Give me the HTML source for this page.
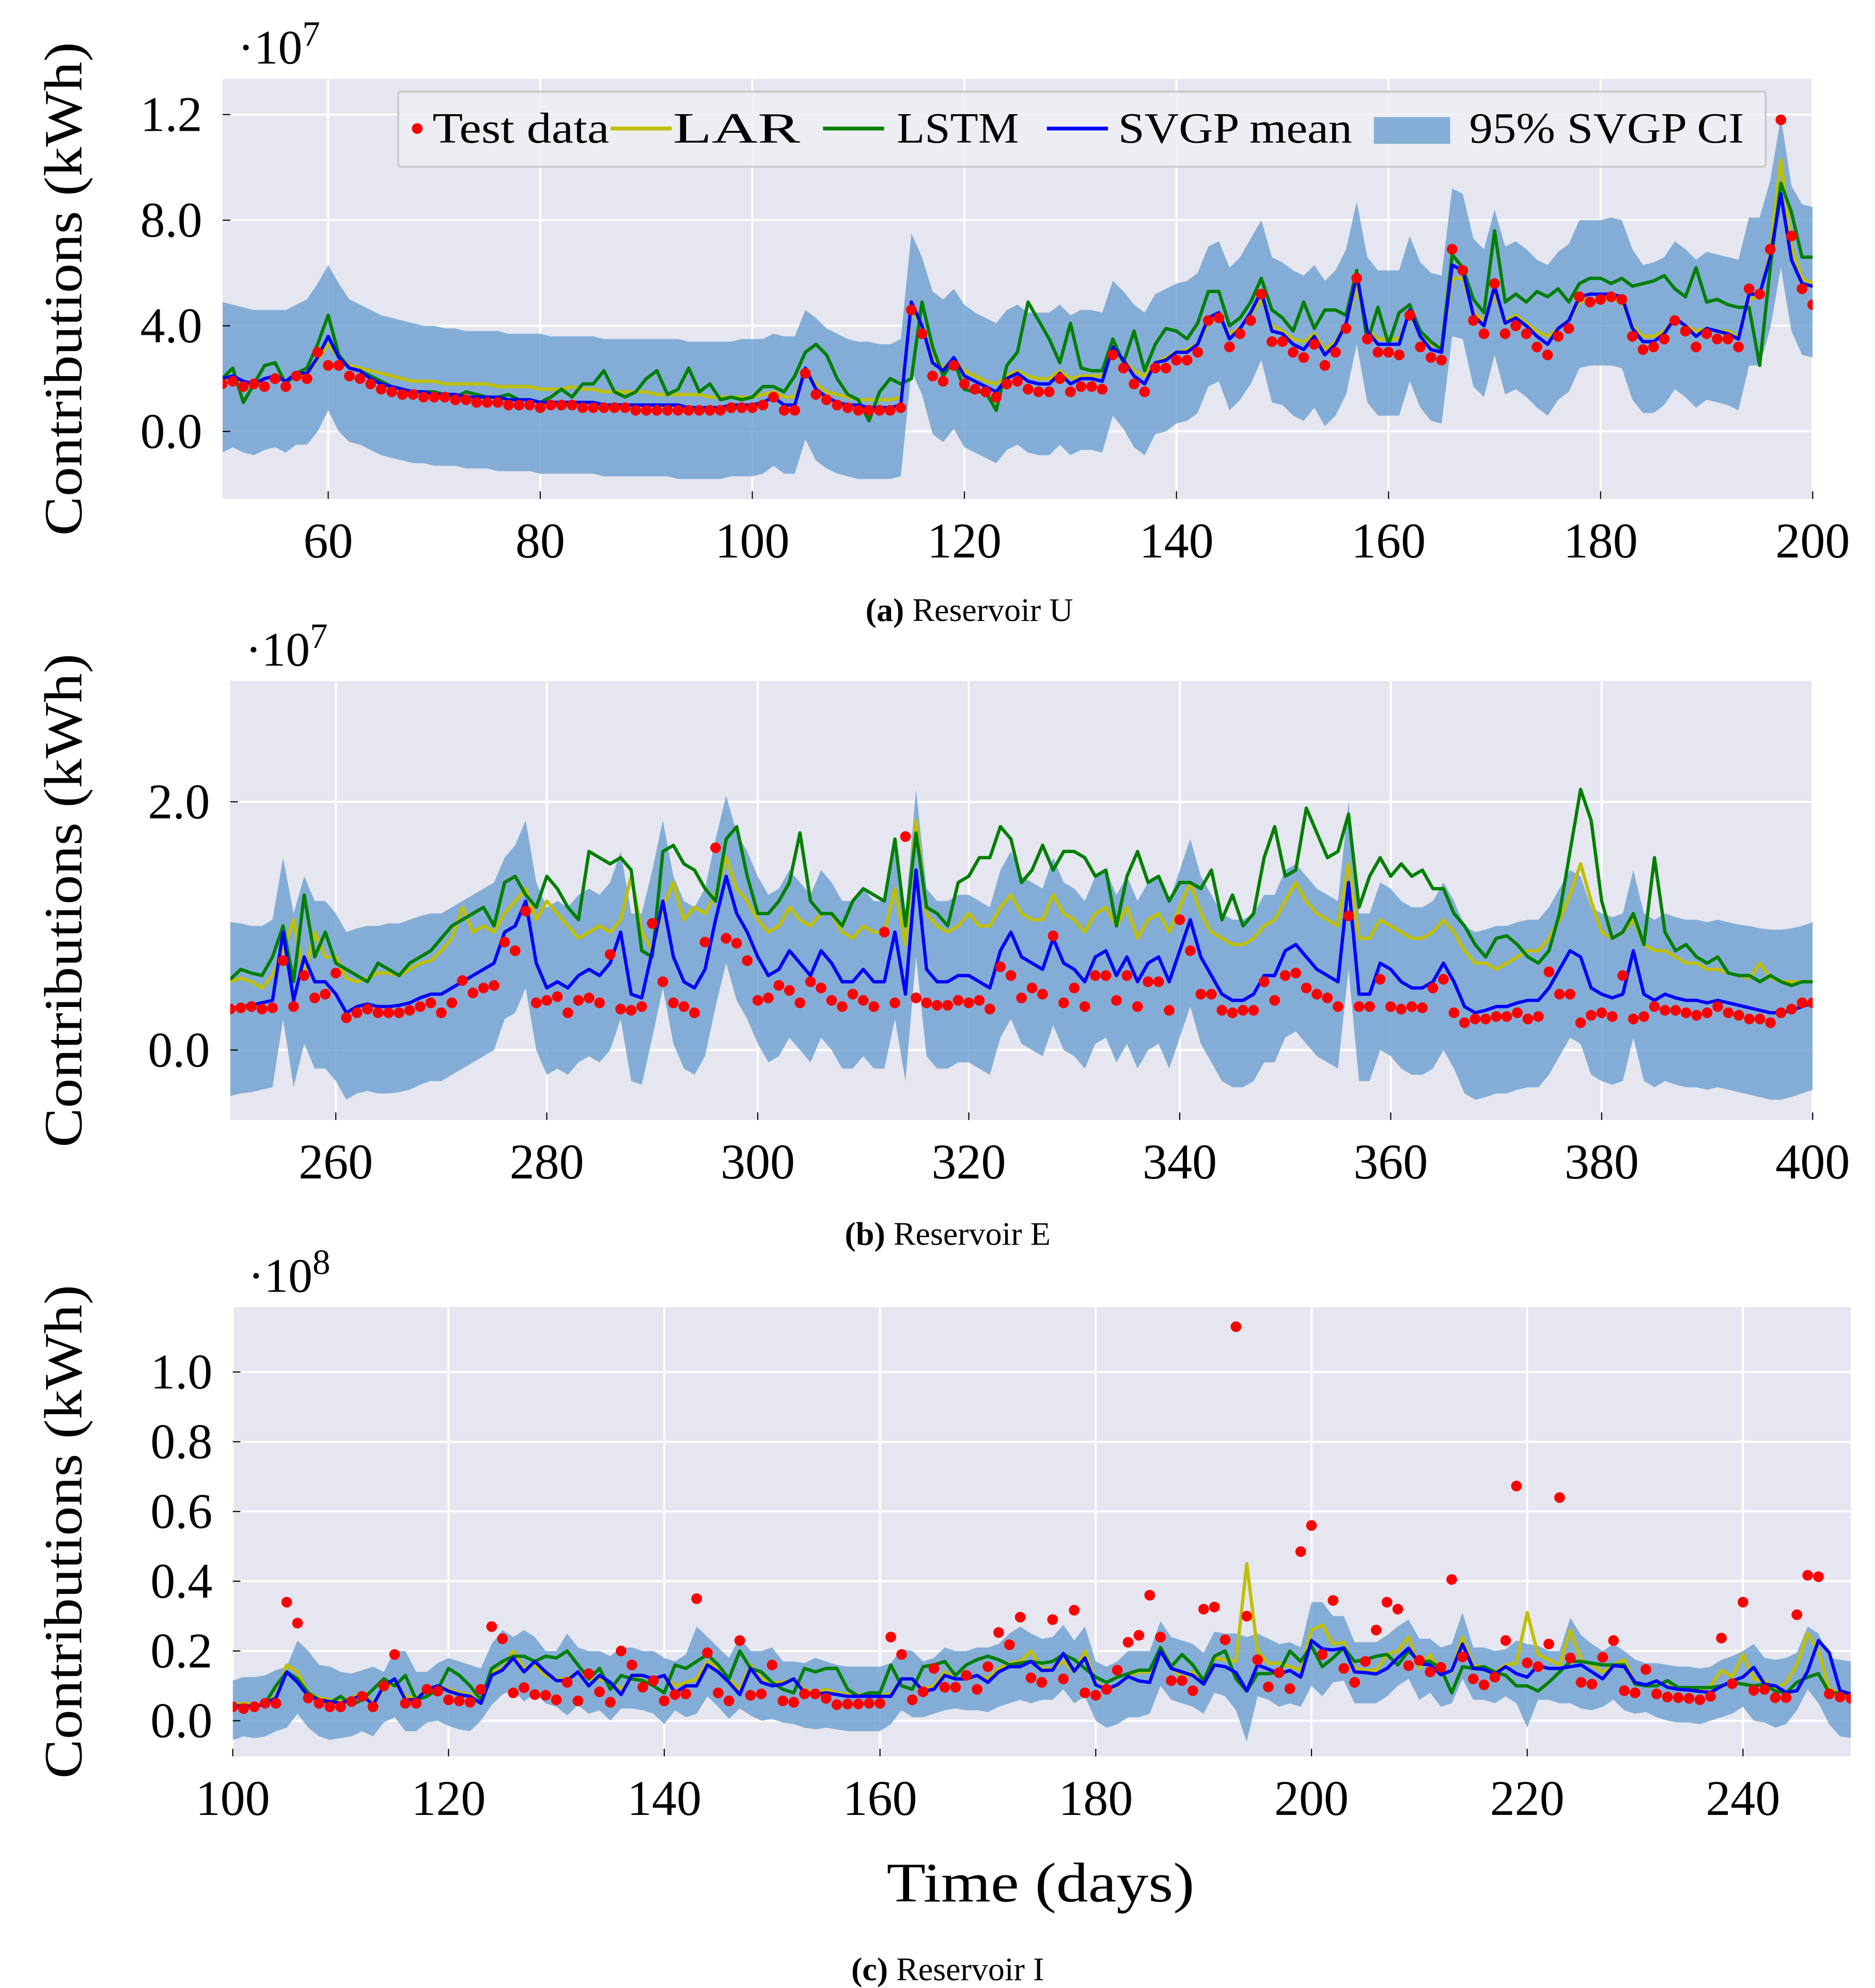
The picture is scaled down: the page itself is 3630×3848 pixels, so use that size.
<!DOCTYPE html>
<html><head><meta charset="utf-8"><style>
html,body{margin:0;padding:0;background:#fff}
svg{display:block}
text{font-family:"Liberation Serif","DejaVu Serif",serif;fill:#000}
</style></head><body>
<svg id="fig" width="3630" height="3848" viewBox="0 0 1474 1562" preserveAspectRatio="none" xmlns="http://www.w3.org/2000/svg">
<rect x="0" y="0" width="1474" height="1562" fill="#fff"/>
</svg>
<script>
// ---------------- Panel A data (Reservoir U, units 1e6 kWh), days 50..200
const startA = 50;
const testA=[1.8,1.9,1.7,1.8,1.7,2.0,1.7,2.1,2.0,3.0, 2.5,2.5,2.1,2.0,1.8,1.6,1.5,1.4,1.4,1.3, 1.3,1.3,1.2,1.2,1.1,1.1,1.1,1.0,1.0,1.0, 0.9,1.0,1.0,1.0,0.9,0.9,0.9,0.9,0.9,0.8, 0.8,0.8,0.8,0.8,0.8,0.8,0.8,0.8,0.9,0.9, 0.9,1.0,1.3,0.8,0.8,2.2,1.4,1.2,1.0,0.9, 0.8,0.8,0.8,0.8,0.9,4.6,3.7,2.1,1.9,2.5, 1.8,1.6,1.5,1.3,1.8,1.9,1.6,1.5,1.5,2.0, 1.5,1.7,1.7,1.6,2.9,2.4,1.8,1.5,2.4,2.4, 2.7,2.7,3.0,4.2,4.3,3.2,3.7,4.2,5.2,3.4, 3.4,3.0,2.8,3.3,2.5,3.0,3.9,5.8,3.5,3.0, 3.0,2.9,4.4,3.2,2.8,2.7,6.9,6.1,4.2,3.7, 5.6,3.7,4.0,3.7,3.2,2.9,3.6,3.9,5.1,4.9, 5.0,5.1,5.0,3.6,3.1,3.2,3.5,4.2,3.8,3.2, 3.7,3.5,3.5,3.2,5.4,5.2,6.9,11.8,7.4,5.4, 4.8];
const meanA=[2.0,2.1,1.9,1.8,2.0,2.1,1.9,2.2,2.2,2.8, 3.6,2.8,2.4,2.3,2.0,1.8,1.7,1.6,1.5,1.5, 1.4,1.4,1.4,1.3,1.3,1.3,1.3,1.2,1.2,1.2, 1.1,1.1,1.1,1.1,1.1,1.1,1.0,1.0,1.0,1.0, 1.0,1.0,1.0,1.0,0.9,0.9,0.9,0.9,1.0,1.0, 1.0,1.1,1.3,1.0,1.0,2.4,1.6,1.3,1.1,1.0, 1.0,0.9,0.9,0.9,1.0,4.9,4.0,2.6,2.3,2.8, 2.1,1.9,1.7,1.5,2.0,2.2,1.9,1.8,1.8,2.2, 1.8,2.0,2.0,1.9,3.2,2.7,2.1,1.8,2.6,2.7, 3.0,3.0,3.3,4.3,4.5,3.5,3.9,4.5,5.3,3.8, 3.7,3.3,3.1,3.6,2.9,3.3,4.1,5.9,3.8,3.3, 3.3,3.3,4.6,3.6,3.1,3.0,6.3,6.1,4.4,4.0, 5.5,4.1,4.3,4.0,3.6,3.3,3.9,4.2,5.1,5.2, 5.2,5.2,5.1,3.9,3.4,3.4,3.7,4.3,4.0,3.6, 3.9,3.8,3.7,3.5,5.2,5.2,6.6,9.0,6.5,5.6, 5.5];
const larA=[2.0,2.0,1.9,1.8,2.0,2.1,1.9,2.1,2.2,2.7, 3.3,2.8,2.5,2.4,2.3,2.2,2.1,2.0,1.9,1.9, 1.9,1.8,1.8,1.8,1.8,1.8,1.7,1.7,1.7,1.7, 1.6,1.6,1.6,1.7,1.6,1.6,1.5,1.5,1.5,1.5, 1.5,1.4,1.4,1.4,1.4,1.4,1.3,1.3,1.3,1.3, 1.3,1.4,1.5,1.3,1.3,2.3,1.8,1.5,1.4,1.3, 1.2,1.2,1.2,1.2,1.3,4.6,4.0,2.8,2.4,2.7, 2.3,2.1,1.9,1.8,2.1,2.3,2.1,2.0,2.0,2.3, 2.0,2.1,2.1,2.1,3.0,2.7,2.3,2.1,2.6,2.8, 3.0,3.1,3.3,4.1,4.3,3.7,3.9,4.4,5.0,4.0, 3.8,3.5,3.4,3.7,3.1,3.4,4.1,5.5,3.9,3.5, 3.5,3.5,4.4,3.7,3.3,3.2,5.8,5.8,4.5,4.2, 5.2,4.2,4.4,4.1,3.8,3.6,3.9,4.2,4.9,5.0, 5.0,5.0,4.9,4.0,3.6,3.6,3.8,4.3,4.0,3.8, 3.9,3.8,3.8,3.6,5.0,5.1,6.8,10.3,7.0,5.8, 5.6];
const lstmA=[2.0,2.4,1.1,1.8,2.5,2.6,1.8,2.2,2.4,3.3, 4.4,2.9,2.4,2.3,2.1,1.9,1.7,1.6,1.5,1.5, 1.5,1.4,1.3,1.5,1.4,1.3,1.3,1.4,1.2,1.2, 1.1,1.3,1.6,1.3,1.8,1.8,2.3,1.5,1.3,1.5, 2.0,2.3,1.4,1.6,2.4,1.5,1.8,1.2,1.3,1.2, 1.3,1.7,1.7,1.5,2.1,3.0,3.3,2.9,2.0,1.4, 1.2,0.4,1.5,2.0,1.8,2.0,4.9,3.2,2.1,2.7, 1.6,1.5,1.5,0.8,2.5,3.0,4.9,4.2,3.5,2.6, 4.1,2.4,2.3,2.3,3.5,2.6,3.8,2.3,3.3,3.9, 3.8,3.5,4.1,5.3,5.3,4.0,4.3,4.9,5.8,4.6, 4.3,3.8,4.9,3.9,4.6,4.6,4.4,6.1,3.4,4.7, 3.3,4.5,4.8,3.8,3.4,3.1,6.7,6.2,5.0,4.5, 7.6,4.9,5.2,4.9,5.3,5.1,5.4,4.9,5.6,5.8, 5.8,5.6,5.8,5.5,5.6,5.7,5.9,5.4,5.1,6.2, 4.9,5.0,4.8,4.7,4.7,2.5,6.2,9.4,8.3,6.6, 6.6];
const ciUA=[4.9,4.8,4.7,4.6,4.6,4.6,4.6,4.8,5.0,5.6, 6.3,5.6,5.0,4.8,4.6,4.4,4.3,4.2,4.1,4.0, 4.0,3.9,3.9,3.8,3.8,3.8,3.8,3.7,3.7,3.7, 3.7,3.6,3.6,3.6,3.6,3.6,3.5,3.5,3.5,3.5, 3.5,3.5,3.5,3.5,3.4,3.4,3.4,3.4,3.4,3.5, 3.5,3.5,3.7,3.6,3.6,4.6,4.3,3.9,3.7,3.5, 3.4,3.4,3.3,3.3,3.5,7.5,6.6,5.3,5.0,5.4, 4.8,4.5,4.3,4.1,4.6,4.8,4.5,4.5,4.5,4.8, 4.4,4.6,4.6,4.5,5.7,5.3,4.8,4.5,5.2,5.4, 5.6,5.7,6.0,7.0,7.2,6.2,6.6,7.3,8.0,6.6, 6.4,6.1,5.9,6.3,5.7,6.1,6.9,8.7,6.6,6.1, 6.1,6.1,7.4,6.4,6.0,5.9,9.2,9.0,7.3,6.9, 8.4,7.0,7.2,6.9,6.5,6.3,6.8,7.1,8.0,8.0, 8.0,8.1,8.0,6.9,6.3,6.4,6.6,7.2,6.9,6.5, 6.8,6.7,6.6,6.5,8.1,8.1,9.5,11.9,9.3,8.6, 8.5];
const ciLA=[-0.8,-0.6,-0.8,-0.9,-0.7,-0.6,-0.8,-0.5,-0.5,0.0, 0.8,0.0,-0.4,-0.5,-0.7,-0.9,-1.0,-1.1,-1.2,-1.2, -1.3,-1.3,-1.3,-1.4,-1.4,-1.4,-1.5,-1.5,-1.5,-1.5, -1.6,-1.6,-1.6,-1.6,-1.6,-1.6,-1.7,-1.7,-1.7,-1.7, -1.7,-1.7,-1.7,-1.8,-1.8,-1.8,-1.8,-1.8,-1.7,-1.7, -1.7,-1.6,-1.3,-1.6,-1.6,-0.3,-1.1,-1.4,-1.6,-1.7, -1.8,-1.8,-1.8,-1.8,-1.7,2.3,1.4,-0.1,-0.4,0.1, -0.6,-0.8,-1.0,-1.2,-0.7,-0.5,-0.8,-0.9,-0.9,-0.5, -0.9,-0.7,-0.7,-0.8,0.6,0.1,-0.6,-0.9,-0.1,0.0, 0.3,0.4,0.7,1.7,1.9,0.8,1.2,1.8,2.7,1.1, 1.0,0.6,0.4,0.9,0.2,0.6,1.4,3.3,1.1,0.6, 0.6,0.6,1.9,0.9,0.4,0.3,3.6,3.5,1.7,1.3, 2.9,1.4,1.6,1.3,0.9,0.6,1.2,1.5,2.4,2.5, 2.5,2.5,2.4,1.2,0.7,0.7,1.0,1.6,1.3,0.9, 1.2,1.1,1.0,0.8,2.5,2.5,3.9,6.2,3.8,2.9, 2.8];
const xTicksA=[60,80,100,120,140,160,180,200];
const yTicksA=[0,4,8,12];
const yTickLabelsA=["0.0","4.0","8.0","1.2"];

// ---------------- Panel B data (Reservoir E, units 1e7 kWh), days 250..400
const startB = 250;
const testB=[0.33,0.34,0.35,0.33,0.34,0.72,0.35,0.60,0.42,0.45, 0.62,0.26,0.30,0.33,0.30,0.30,0.30,0.32,0.35,0.38, 0.30,0.38,0.56,0.46,0.50,0.52,0.87,0.80,1.12,0.38, 0.40,0.43,0.30,0.40,0.42,0.38,0.77,0.33,0.32,0.35, 1.02,0.55,0.38,0.35,0.30,0.87,1.63,0.90,0.86,0.72, 0.40,0.42,0.52,0.48,0.38,0.55,0.50,0.40,0.35,0.45, 0.40,0.35,0.95,0.38,1.72,0.42,0.38,0.36,0.36,0.40, 0.38,0.40,0.33,0.67,0.60,0.42,0.50,0.45,0.92,0.38, 0.50,0.35,0.60,0.60,0.40,0.60,0.35,0.55,0.55,0.32, 1.05,0.80,0.45,0.45,0.32,0.30,0.32,0.32,0.55,0.40, 0.60,0.62,0.50,0.45,0.42,0.35,1.08,0.35,0.35,0.57, 0.35,0.33,0.35,0.34,0.50,0.57,0.30,0.22,0.25,0.25, 0.27,0.27,0.30,0.25,0.27,0.63,0.45,0.45,0.22,0.28, 0.30,0.27,0.60,0.25,0.27,0.35,0.32,0.32,0.30,0.28, 0.30,0.35,0.30,0.28,0.25,0.25,0.22,0.30,0.33,0.38, 0.38];
const meanB=[0.33,0.35,0.36,0.38,0.40,0.95,0.40,0.75,0.55,0.55, 0.45,0.30,0.35,0.37,0.35,0.35,0.36,0.38,0.42,0.45, 0.45,0.50,0.55,0.60,0.65,0.70,0.95,1.00,1.20,0.70, 0.50,0.55,0.50,0.60,0.65,0.60,0.70,0.95,0.45,0.42, 0.80,1.20,0.75,0.55,0.50,0.65,1.05,1.40,1.10,0.95, 0.75,0.60,0.65,0.80,0.70,0.60,0.80,0.70,0.55,0.55, 0.65,0.55,0.55,0.95,0.45,1.45,0.65,0.55,0.55,0.60, 0.60,0.55,0.50,0.80,0.95,0.75,0.70,0.65,0.90,0.70, 0.65,0.55,0.75,0.80,0.60,0.75,0.55,0.70,0.75,0.55, 0.80,1.05,0.75,0.60,0.45,0.40,0.40,0.45,0.60,0.60, 0.80,0.85,0.75,0.65,0.60,0.55,1.35,0.45,0.45,0.70, 0.65,0.55,0.50,0.50,0.55,0.70,0.55,0.35,0.30,0.32, 0.35,0.35,0.38,0.40,0.40,0.50,0.65,0.80,0.75,0.50, 0.45,0.42,0.45,0.80,0.45,0.40,0.45,0.42,0.40,0.40, 0.38,0.40,0.38,0.36,0.34,0.32,0.30,0.30,0.32,0.35, 0.38];
const larB=[0.55,0.58,0.55,0.50,0.60,0.80,1.05,0.60,0.95,0.75, 0.75,0.58,0.55,0.58,0.62,0.62,0.60,0.65,0.70,0.72, 0.80,0.90,1.15,0.95,1.00,0.95,1.10,1.20,1.30,1.05, 1.20,1.10,1.00,0.90,0.95,1.00,0.95,1.05,1.40,0.95, 0.80,1.15,1.35,1.05,1.15,1.10,1.25,1.55,1.30,1.20, 1.05,0.95,1.00,1.15,1.05,1.00,1.10,1.10,0.95,0.90, 1.00,0.95,0.95,1.30,0.85,1.85,1.10,1.00,0.95,1.00, 1.10,1.00,1.00,1.15,1.25,1.10,1.05,1.05,1.25,1.10, 1.05,0.95,1.10,1.15,1.00,1.15,0.90,1.05,1.10,0.95, 1.15,1.35,1.10,0.95,0.90,0.85,0.85,0.90,1.00,1.05, 1.20,1.35,1.20,1.10,1.05,1.00,1.50,0.90,0.90,1.05, 1.00,0.95,0.90,0.90,0.95,1.05,0.95,0.80,0.70,0.70, 0.65,0.70,0.75,0.80,0.80,0.90,1.05,1.25,1.50,1.20, 0.95,0.90,0.95,1.05,0.85,0.80,0.80,0.75,0.70,0.70, 0.65,0.65,0.62,0.60,0.58,0.70,0.58,0.55,0.55,0.55, 0.55];
const lstmB=[0.57,0.65,0.62,0.60,0.75,1.00,0.55,1.25,0.75,0.95, 0.70,0.65,0.60,0.55,0.70,0.65,0.60,0.70,0.75,0.80, 0.90,1.00,1.05,1.10,1.15,1.00,1.35,1.40,1.25,1.15, 1.40,1.30,1.15,1.05,1.60,1.55,1.50,1.55,1.45,0.80, 0.75,1.60,1.65,1.50,1.45,1.30,1.20,1.70,1.80,1.40, 1.10,1.10,1.20,1.35,1.75,1.20,1.10,1.10,1.00,1.20, 1.30,1.25,1.20,1.70,1.00,1.75,1.15,1.10,1.00,1.35, 1.40,1.55,1.55,1.80,1.70,1.35,1.45,1.65,1.45,1.60, 1.60,1.55,1.40,1.45,1.00,1.40,1.60,1.35,1.40,1.20, 1.35,1.35,1.30,1.45,1.05,1.25,1.00,1.10,1.55,1.80, 1.40,1.45,1.95,1.75,1.55,1.60,1.90,1.15,1.40,1.55, 1.40,1.50,1.40,1.45,1.30,1.30,1.10,1.00,0.85,0.75, 0.90,0.92,0.85,0.75,0.70,0.80,1.10,1.60,2.10,1.85, 1.20,0.90,0.95,1.10,0.85,1.55,0.95,0.80,0.85,0.75, 0.70,0.75,0.62,0.60,0.60,0.55,0.60,0.55,0.52,0.55, 0.55];
const ciUB=[1.03,1.02,1.00,1.00,1.05,1.55,1.10,1.40,1.20,1.20, 1.10,0.95,0.98,1.00,1.00,1.02,1.02,1.05,1.08,1.10, 1.10,1.15,1.20,1.25,1.30,1.35,1.55,1.65,1.85,1.35, 1.15,1.20,1.15,1.25,1.30,1.25,1.35,1.60,1.10,1.10, 1.45,1.85,1.40,1.20,1.15,1.30,1.70,2.05,1.75,1.60, 1.40,1.25,1.30,1.45,1.35,1.25,1.45,1.35,1.20,1.20, 1.30,1.20,1.20,1.60,1.10,2.10,1.30,1.20,1.20,1.25, 1.25,1.20,1.15,1.45,1.60,1.40,1.35,1.30,1.55,1.35, 1.30,1.20,1.40,1.45,1.25,1.40,1.20,1.35,1.40,1.20, 1.45,1.70,1.40,1.25,1.10,1.05,1.05,1.10,1.25,1.25, 1.45,1.50,1.40,1.30,1.25,1.20,2.00,1.10,1.10,1.35, 1.30,1.20,1.15,1.15,1.20,1.35,1.20,1.00,0.95,0.97, 1.00,1.00,1.03,1.05,1.05,1.15,1.30,1.45,1.40,1.15, 1.10,1.07,1.10,1.45,1.10,1.05,1.10,1.07,1.05,1.05, 1.03,1.05,1.03,1.01,1.00,0.98,0.97,0.97,0.98,1.00, 1.03];
const ciLB=[-0.37,-0.35,-0.34,-0.32,-0.30,0.25,-0.30,0.05,-0.15,-0.15, -0.25,-0.40,-0.35,-0.33,-0.35,-0.35,-0.34,-0.32,-0.28,-0.25, -0.25,-0.20,-0.15,-0.10,-0.05,0.00,0.25,0.30,0.50,0.00, -0.20,-0.15,-0.20,-0.10,-0.05,-0.10,0.00,0.25,-0.25,-0.28, 0.10,0.50,0.05,-0.15,-0.20,-0.05,0.35,0.70,0.40,0.25, 0.05,-0.10,-0.05,0.10,0.00,-0.10,0.10,0.00,-0.15,-0.15, -0.05,-0.15,-0.15,0.25,-0.25,0.75,-0.05,-0.15,-0.15,-0.10, -0.10,-0.15,-0.20,0.10,0.25,0.05,0.00,-0.05,0.20,0.00, -0.05,-0.15,0.05,0.10,-0.10,0.05,-0.15,0.00,0.05,-0.15, 0.10,0.35,0.05,-0.10,-0.25,-0.30,-0.30,-0.25,-0.10,-0.10, 0.10,0.15,0.05,-0.05,-0.10,-0.15,0.65,-0.25,-0.25,0.00, -0.05,-0.15,-0.20,-0.20,-0.15,0.00,-0.15,-0.35,-0.40,-0.38, -0.35,-0.35,-0.32,-0.30,-0.30,-0.20,-0.05,0.10,0.05,-0.20, -0.25,-0.28,-0.25,0.10,-0.25,-0.30,-0.25,-0.28,-0.30,-0.30, -0.32,-0.30,-0.32,-0.34,-0.36,-0.38,-0.40,-0.40,-0.38,-0.35, -0.32];
const xTicksB=[260,280,300,320,340,360,380,400];
const yTicksB=[0,2];
const yTickLabelsB=["0.0","2.0"];

// ---------------- Panel C data (Reservoir I, units 1e8 kWh), days 100..250
const startC = 100;
const testC=[.04,.035,.04,.05,.05,.34,.28,.065,.05,.04, .04,.055,.07,.04,.10,.19,.05,.05,.09,.085, .06,.057,.053,.09,.27,.235,.08,.095,.075,.073, .06,.11,.057,.135,.083,.053,.20,.16,.096,.115, .057,.075,.077,.35,.195,.08,.057,.23,.073,.077, .16,.057,.053,.077,.077,.064,.046,.048,.048,.05, .05,.24,.19,.06,.083,.15,.096,.096,.13,.09, .155,.253,.218,.297,.123,.11,.29,.12,.317,.08, .073,.09,.145,.225,.245,.36,.24,.115,.115,.086, .32,.326,.232,1.13,.30,.175,.097,.138,.092,.485, .56,.19,.345,.15,.11,.17,.26,.34,.32,.158, .173,.14,.153,.405,.183,.12,.103,.125,.23,.673, .166,.155,.22,.64,.18,.11,.105,.182,.23,.086, .08,.147,.077,.068,.066,.064,.06,.07,.237,.106, .34,.087,.09,.066,.066,.304,.417,.413,.077,.068, .064];
const meanC=[.042,.04,.04,.05,.065,.14,.11,.07,.06,.055, .05,.06,.075,.045,.10,.12,.06,.06,.09,.10, .085,.075,.07,.05,.13,.145,.18,.14,.17,.14, .115,.115,.14,.10,.13,.11,.075,.13,.13,.12, .13,.08,.10,.10,.16,.14,.11,.075,.15,.11, .10,.105,.12,.08,.075,.08,.075,.07,.07,.07, .07,.07,.12,.12,.085,.09,.13,.12,.12,.13, .11,.14,.155,.155,.17,.144,.145,.193,.142,.18, .103,.09,.103,.127,.114,.11,.20,.15,.14,.13, .105,.16,.155,.138,.086,.16,.148,.135,.144,.125, .23,.206,.203,.208,.14,.138,.134,.15,.18,.208, .164,.16,.132,.144,.22,.15,.147,.134,.155,.135, .125,.158,.15,.15,.155,.16,.14,.12,.158,.155, .11,.103,.114,.096,.09,.088,.084,.081,.099,.114, .125,.153,.105,.10,.081,.086,.142,.23,.195,.086, .077];
const larC=[.045,.05,.045,.05,.07,.16,.14,.08,.065,.06, .055,.065,.08,.05,.09,.11,.07,.065,.09,.10, .09,.08,.075,.06,.14,.15,.20,.15,.16,.13, .12,.12,.14,.12,.12,.11,.09,.12,.13,.12, .13,.10,.11,.12,.17,.15,.12,.09,.16,.12, .11,.11,.12,.09,.08,.09,.08,.075,.075,.075, .075,.075,.12,.12,.09,.10,.14,.12,.12,.13, .12,.15,.165,.17,.20,.15,.15,.17,.14,.20, .11,.09,.10,.13,.14,.14,.21,.16,.12,.14, .11,.18,.175,.17,.45,.20,.165,.165,.155,.145, .26,.275,.22,.225,.15,.145,.145,.19,.20,.24, .15,.19,.14,.14,.24,.16,.15,.14,.16,.165, .31,.19,.175,.16,.26,.175,.16,.14,.16,.175, .11,.10,.115,.10,.095,.09,.085,.10,.145,.125, .19,.12,.115,.09,.11,.16,.25,.20,.09,.08, .075];
const lstmC=[.04,.045,.04,.05,.10,.14,.12,.08,.06,.05, .07,.045,.06,.09,.12,.10,.13,.06,.07,.09, .15,.13,.10,.06,.15,.17,.185,.185,.17,.185, .18,.20,.16,.12,.15,.09,.13,.12,.115,.10, .08,.16,.15,.17,.19,.16,.12,.20,.15,.14, .11,.09,.08,.15,.14,.15,.15,.09,.07,.08, .08,.16,.10,.09,.155,.16,.17,.13,.16,.175, .185,.175,.16,.165,.17,.165,.17,.19,.175,.15, .125,.11,.125,.135,.145,.145,.21,.155,.19,.16, .115,.185,.20,.12,.085,.135,.135,.14,.20,.17, .215,.155,.18,.21,.17,.175,.185,.19,.16,.20, .17,.17,.15,.08,.155,.15,.155,.14,.13,.10, .10,.085,.11,.14,.17,.17,.165,.16,.16,.16, .105,.10,.10,.115,.095,.095,.095,.095,.10,.11, .105,.10,.105,.085,.08,.11,.125,.135,.08,.08, .075];
const ciUC=[.115,.125,.125,.13,.145,.155,.23,.20,.16,.155, .14,.135,.145,.155,.14,.20,.20,.14,.14,.165, .18,.17,.16,.15,.22,.26,.24,.26,.24,.20, .20,.25,.21,.20,.20,.185,.21,.21,.20,.20, .18,.17,.19,.27,.24,.21,.18,.24,.20,.20, .21,.17,.17,.165,.18,.17,.16,.155,.155,.155, .155,.165,.205,.20,.17,.18,.21,.20,.20,.21, .21,.22,.25,.27,.25,.235,.24,.275,.23,.27, .17,.155,.17,.20,.20,.20,.285,.24,.23,.22, .195,.255,.25,.25,.24,.25,.235,.22,.225,.21, .34,.34,.30,.30,.225,.225,.225,.245,.27,.29, .235,.235,.21,.22,.31,.21,.21,.20,.205,.23, .22,.215,.20,.20,.295,.245,.22,.20,.22,.20, .175,.165,.165,.16,.155,.155,.15,.155,.175,.185, .20,.22,.18,.175,.18,.195,.27,.25,.18,.175, .17];
const ciLC=[-.055,-.045,-.05,-.045,-.03,-.02,.02,-.02,-.045,-.055, -.05,-.045,-.03,-.045,-.005,.01,-.03,-.03,-.005,0, -.015,-.025,-.03,0,.045,.075,.09,.055,.08,.05, .04,.015,.045,.02,.03,0,.035,.035,.03,.02, -.01,.03,.01,.02,.07,.04,.005,.035,.015,0, .005,-.005,-.01,-.02,-.025,-.02,-.025,-.03,-.03,-.03, -.03,-.01,.03,.01,.01,.02,.03,.035,.03,.03, .025,.04,.05,.06,.05,.06,.06,.09,.05,.07, 0,-.02,-.01,.01,.01,.02,.10,.06,.05,.04, .02,.08,.07,.03,-.06,.07,.06,.04,.05,.04, .10,.07,.11,.115,.05,.05,.05,.07,.10,.12, .06,.08,.04,.05,.12,.06,.06,.05,.07,.05, -.02,.06,.06,.05,.05,.035,.03,.04,.06,.03, .02,.025,.01,0,-.005,-.005,-.01,0,.01,.02, .04,0,-.005,-.02,-.01,.03,.09,.05,-.01,-.045, -.05];
const xTicksC=[100,120,140,160,180,200,220,240];
const yTicksC=[0,0.2,0.4,0.6,0.8,1.0];
const yTickLabelsC=["0.0","0.2","0.4","0.6","0.8","1.0"];

const NS="http://www.w3.org/2000/svg";
const svg=document.getElementById('fig');
function mk(tag,attrs,parent){const e=document.createElementNS(NS,tag);for(const k in attrs)e.setAttribute(k,attrs[k]);(parent||svg).appendChild(e);return e;}

function panel(cfg){
  const g=mk('g',{});
  
  
  const X=d=>cfg.px0+(d-cfg.d0)*(cfg.px1-cfg.px0)/(cfg.d1-cfg.d0);
  const Y=v=>cfg.py0-v*cfg.pyScale;
  const bg=mk('rect',{x:cfg.left,y:cfg.top,width:cfg.right-cfg.left,height:cfg.bottom-cfg.top,fill:'#e5e6ef'},g);
  
  
  const clipId='clip'+cfg.id;
  const cp=mk('clipPath',{id:clipId},g);
  mk('rect',{x:cfg.left,y:cfg.top,width:cfg.right-cfg.left,height:cfg.bottom-cfg.top},cp);
  cfg.xTicks.forEach(t=>{
    const l=mk('line',{x1:X(t),x2:X(t),y1:cfg.top,y2:cfg.bottom,stroke:'#fff','stroke-width':1.6},g);
    
    
  });
  cfg.yTicks.forEach(t=>{
    const l=mk('line',{x1:cfg.left,x2:cfg.right,y1:Y(t),y2:Y(t),stroke:'#fff','stroke-width':1.6},g);
    
    
  });
  const dg=mk('g',{'clip-path':'url(#'+clipId+')'},g);
  const n=cfg.test.length;
  let d='';
  for(let i=0;i<n;i++)d+=(i?'L':'M')+X(cfg.start+i).toFixed(2)+','+Y(cfg.ciU[i]).toFixed(2);
  for(let i=n-1;i>=0;i--)d+='L'+X(cfg.start+i).toFixed(2)+','+Y(cfg.ciL[i]).toFixed(2);
  const band=mk('path',{d:d+'Z',fill:'#6a9fcf','fill-opacity':0.8},dg);
  
  
  const line=(arr,col,name)=>{
    let p='';arr.forEach((v,i)=>{p+=(i?'L':'M')+X(cfg.start+i).toFixed(2)+','+Y(v).toFixed(2);});
    const e=mk('path',{d:p,fill:'none',stroke:col,'stroke-width':2.6,'stroke-linejoin':'round'},dg);
    
    
  };
  line(cfg.lar,'#bfbf00','lar-line');
  line(cfg.lstm,'#007f00','lstm-line');
  line(cfg.mean,'#0000ff','svgp-mean-line');
  cfg.test.forEach((v,i)=>{
    const c=mk('circle',{cx:X(cfg.start+i),cy:Y(v),r:4.2,fill:'#ff0000'},dg);
    
    
  });
  cfg.xTicks.forEach(t=>{
    mk('line',{x1:X(t),x2:X(t),y1:cfg.bottom,y2:cfg.bottom-6,stroke:'#000','stroke-width':0.9},g);
    const tx=mk('text',{x:X(t),y:cfg.bottom+46,'text-anchor':'middle','font-size':39},g);
    tx.textContent=String(t);
    
    
  });
  cfg.yTicks.forEach((t,i)=>{
    mk('line',{x1:cfg.left,x2:cfg.left+6,y1:Y(t),y2:Y(t),stroke:'#000','stroke-width':0.9},g);
    const tx=mk('text',{x:cfg.left-16,y:Y(t)+13,'text-anchor':'end','font-size':39},g);
    tx.textContent=cfg.yLabels[i];
    
    
  });
  const ex=mk('text',{x:cfg.left+12,y:cfg.top-12,'font-size':38},g);
  ex.textContent='\u00b710';
  const sup=mk('tspan',{dy:-14,'font-size':28},ex);
  sup.textContent=cfg.exp;
  
  
  const yl=mk('text',{x:0,y:0,'text-anchor':'middle','font-size':42,textLength:388,lengthAdjust:'spacingAndGlyphs',transform:'translate(64,'+((cfg.top+cfg.bottom)/2)+') rotate(-90)'},g);
  yl.textContent='Contributions (kWh)';
  
  
  const cap=mk('text',{x:cfg.capX,y:cfg.capY,'text-anchor':'middle','font-size':26},g);
  const b=mk('tspan',{'font-weight':'bold'},cap);b.textContent='(' + cfg.letter + ')';
  const rest=mk('tspan',{},cap);rest.textContent=' Reservoir '+cfg.res;
  
  
}

panel({id:'A',name:'panel-reservoir-u',left:175,right:1425,top:62,bottom:392,d0:60,d1:200,px0:258,px1:1425,py0:339,pyScale:20.75,
  start:startA,test:testA,mean:meanA,lar:larA,lstm:lstmA,ciU:ciUA,ciL:ciLA,xTicks:xTicksA,yTicks:yTicksA,yLabels:yTickLabelsA,exp:'7',letter:'a',res:'U',capX:762,capY:488});
panel({id:'B',name:'panel-reservoir-e',left:181,right:1425,top:535,bottom:880,d0:260,d1:400,px0:264,px1:1425,py0:825,pyScale:97.5,
  start:startB,test:testB,mean:meanB,lar:larB,lstm:lstmB,ciU:ciUB,ciL:ciLB,xTicks:xTicksB,yTicks:yTicksB,yLabels:yTickLabelsB,exp:'7',letter:'b',res:'E',capX:745,capY:978});
panel({id:'C',name:'panel-reservoir-i',left:183,right:1455,top:1027,bottom:1380,d0:100,d1:250,px0:183,px1:1455,py0:1352,pyScale:274,
  start:startC,test:testC,mean:meanC,lar:larC,lstm:lstmC,ciU:ciUC,ciL:ciLC,xTicks:xTicksC,yTicks:yTicksC,yLabels:yTickLabelsC,exp:'8',letter:'c',res:'I',capX:745,capY:1556});

const xt=mk('text',{x:818,y:1494,'text-anchor':'middle','font-size':44,textLength:242,lengthAdjust:'spacingAndGlyphs'});
xt.textContent='Time (days)';



const lg=mk('g',{});


mk('rect',{x:313,y:72,width:1075,height:59,fill:'#eeeef3','fill-opacity':0.85,stroke:'#c8c8c8','stroke-width':1.5,rx:2},lg);
const entries=[
 {t:'Test data',kind:'dot',col:'#ff0000',sx:322,tx:340,w:139,name:'legend-test-data'},
 {t:'LAR',kind:'line',col:'#bfbf00',sx:480,tx:529,w:100,name:'legend-lar'},
 {t:'LSTM',kind:'line',col:'#007f00',sx:647,tx:705,w:96,name:'legend-lstm'},
 {t:'SVGP mean',kind:'line',col:'#0000ff',sx:823,tx:879,w:184,name:'legend-svgp-mean'},
 {t:'95% SVGP CI',kind:'patch',col:'#6a9fcf',sx:1080,tx:1155,w:216,name:'legend-svgp-ci'}
];
entries.forEach(e=>{
  const eg=mk('g',{},lg);
  
  
  if(e.kind==='dot')mk('circle',{cx:e.sx+6,cy:101,r:4.2,fill:e.col},eg);
  else if(e.kind==='line')mk('line',{x1:e.sx,x2:e.sx+48,y1:101,y2:101,stroke:e.col,'stroke-width':3},eg);
  else mk('rect',{x:e.sx,y:92,width:60,height:21,fill:e.col,'fill-opacity':0.8},eg);
  const tx=mk('text',{x:e.tx,y:112,'font-size':34,textLength:e.w,lengthAdjust:'spacingAndGlyphs'},eg);
  tx.textContent=e.t;
});
</script>
</body></html>
